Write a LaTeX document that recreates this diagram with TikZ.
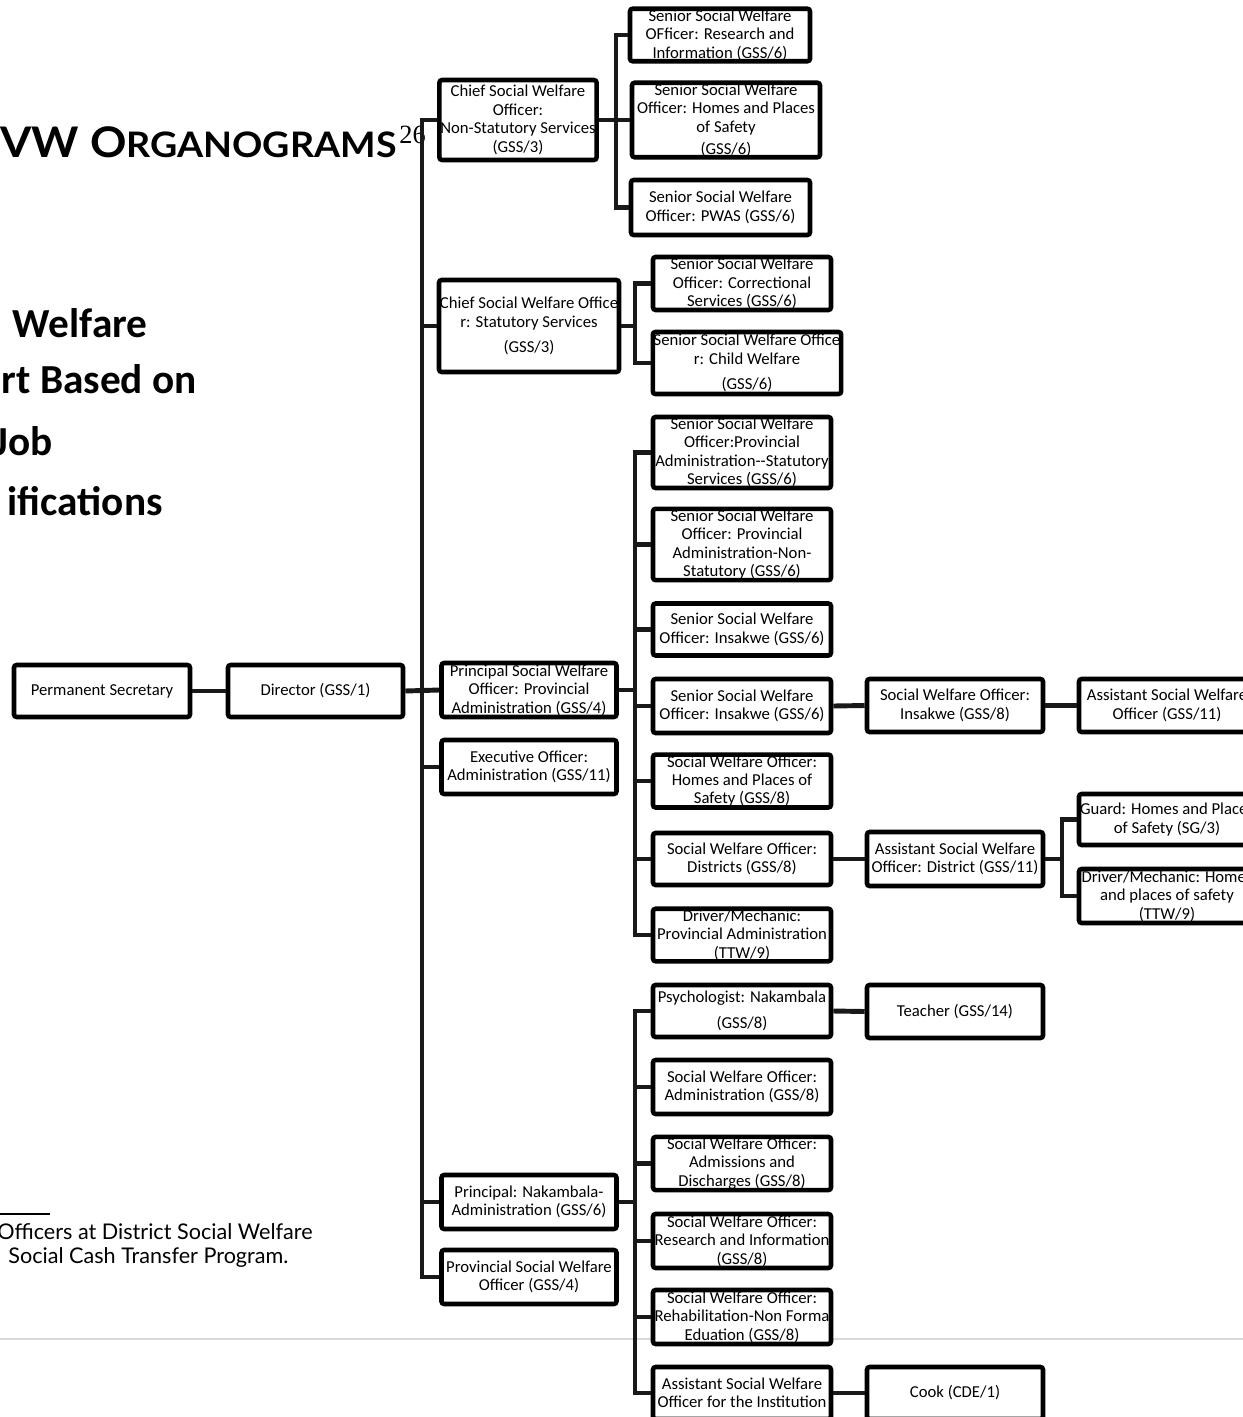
\documentclass[tikz,border=0pt]{standalone}
\usepackage{fontspec}
\newfontfamily\boxfont{Carlito}
\newfontfamily\gillfont{Lato}
\newfontfamily\timesfont{Liberation Serif}
\usepackage{tikz}

\begin{document}
\begin{tikzpicture}[x=0.02cm, y=-0.02cm,
        post/.style={draw, line width=2.6pt, rounded corners=1.5pt, fill=white, align=center, inner sep=0.5pt, font=\boxfont\fontsize{9.5}{10.5}\selectfont},
        boxsize/.style 2 args={minimum width=#1*0.02cm, minimum height=#2*0.02cm},
        link/.style={line width=2.8pt, black!90},
        title/.style={anchor=base east, inner sep=0pt, font=\boxfont\bfseries\fontsize{23.5}{23.5}\selectfont}]
        \clip (0, 0) rectangle (1243, 1417);

        % page text behind the chart
        \draw [gray!30, line width=1.2pt] (0, 1339) -- (1243, 1339);
        \node (heading) [anchor=base east, inner sep=0pt, font=\gillfont\bfseries] at (397, 157) {\scalebox{1.07}[1]{\fontsize{24}{24}\selectfont VW O\fontsize{20}{20}\selectfont RGANOGRAMS}};
        \node (heading note) [anchor=base west, inner sep=0pt, font=\timesfont\fontsize{15}{15}\selectfont] at (399, 143) {26};
        \node (title a) [title] at (148, 337) {Welfare};
        \node (title b) [title] at (197, 393) {rt Based on};
        \node (title c) [title] at (53, 455) {Job};
        \node (title d) [title] at (163, 515) {ifications};
        \draw [line width=0.6pt] (0, 1214) -- (50, 1214);
        \node (foot a) [anchor=base west, inner sep=0pt, font=\gillfont\fontsize{12.3}{12.3}\selectfont] at (-3, 1239) {Officers at District Social Welfare};
        \node (foot b) [anchor=base west, inner sep=0pt, font=\gillfont\fontsize{12.3}{12.3}\selectfont] at (8, 1263) {Social Cash Transfer Program.};

        \node (perm sec) [post, boxsize={176}{52}] at (102, 691) {Permanent Secretary};
        \node (director) [post, boxsize={175}{52}] at (315.5, 691) {Director (GSS/1)};

        \node (chief ns) [post, boxsize={156}{80}] at (518, 120) {Chief Social Welfare\\Officer:\\Non-Statutory Services\\(GSS/3)};
        \node (chief st) [post, boxsize={176}{92}] at (529, 326) {Chief Social Welfare Office\\r: Statutory Services\\[4pt](GSS/3)};
        \node (princ prov) [post, boxsize={175}{54}] at (529, 690) {Principal Social Welfare\\Officer: Provincial\\Administration (GSS/4)};
        \node (exec off) [post, boxsize={175}{54}] at (529, 767) {Executive Officer:\\Administration (GSS/11)};
        \node (princ nak) [post, boxsize={175}{54}] at (529, 1202) {Principal: Nakambala-\\Administration (GSS/6)};
        \node (prov swo) [post, boxsize={175}{54}] at (529, 1277) {Provincial Social Welfare\\Officer (GSS/4)};

        \node (sr research) [post, boxsize={180}{52}] at (720, 35) {Senior Social Welfare\\OFficer: Research and\\Information (GSS/6)};
        \node (sr homes) [post, boxsize={188}{72}] at (726, 120) {Senior Social Welfare\\Officer: Homes and Places\\of Safety\\[2pt](GSS/6)};
        \node (sr pwas) [post, boxsize={179}{55}] at (720.5, 207.5) {Senior Social Welfare\\Officer: PWAS (GSS/6)};

        \node (sr correct) [post, boxsize={178}{53}] at (742, 283.5) {Senior Social Welfare\\Officer: Correctional\\Services (GSS/6)};
        \node (sr child) [post, boxsize={187}{62}] at (747, 363) {Senior Social Welfare Office\\r: Child Welfare\\[4pt](GSS/6)};

        \node (sr prov st) [post, boxsize={178}{71}] at (742, 452.5) {Senior Social Welfare\\Officer:Provincial\\Administration--Statutory\\Services (GSS/6)};
        \node (sr prov nst) [post, boxsize={178}{70}] at (742, 544.5) {Senior Social Welfare\\Officer: Provincial\\Administration-Non-\\Statutory (GSS/6)};
        \node (sr insakwe a) [post, boxsize={178}{52}] at (742, 629.5) {Senior Social Welfare\\Officer: Insakwe (GSS/6)};
        \node (sr insakwe b) [post, boxsize={178}{54}] at (742, 706) {Senior Social Welfare\\Officer: Insakwe (GSS/6)};
        \node (swo homes) [post, boxsize={178}{52}] at (742, 781) {Social Welfare Officer:\\Homes and Places of\\Safety (GSS/8)};
        \node (swo districts) [post, boxsize={178}{52}] at (742, 859) {Social Welfare Officer:\\Districts (GSS/8)};
        \node (driver prov) [post, boxsize={178}{52}] at (742, 935) {Driver/Mechanic:\\Provincial Administration\\(TTW/9)};

        \node (swo insakwe) [post, boxsize={176}{53}] at (955, 705.5) {Social Welfare Officer:\\Insakwe (GSS/8)};
        \node (asst swo) [post, boxsize={176}{53}] at (1167, 705.5) {Assistant Social Welfare\\Officer (GSS/11)};
        \node (asst district) [post, boxsize={176}{54}] at (955, 859) {Assistant Social Welfare\\Officer: District (GSS/11)};
        \node (guard) [post, boxsize={176}{51}] at (1167, 819.5) {Guard: Homes and Places\\of Safety (SG/3)};
        \node (driver homes) [post, boxsize={176}{54}] at (1167, 896) {Driver/Mechanic: Homes\\and places of safety\\(TTW/9)};

        \node (psych) [post, boxsize={178}{52}] at (742, 1011) {Psychologist: Nakambala\\[4pt](GSS/8)};
        \node (swo admin) [post, boxsize={178}{54}] at (742, 1087) {Social Welfare Officer:\\Administration (GSS/8)};
        \node (swo admissions) [post, boxsize={178}{53}] at (742, 1163.5) {Social Welfare Officer:\\Admissions and\\Discharges (GSS/8)};
        \node (swo research) [post, boxsize={178}{54}] at (742, 1241) {Social Welfare Officer:\\Research and Information\\(GSS/8)};
        \node (swo rehab) [post, boxsize={178}{54}] at (742, 1317) {Social Welfare Officer:\\Rehabilitation-Non Forma\\Eduation (GSS/8)};
        \node (asst inst) [post, boxsize={178}{52}] at (742, 1393) {Assistant Social Welfare\\Officer for the Institution};
        \node (teacher) [post, boxsize={176}{53}] at (955, 1011.5) {Teacher (GSS/14)};
        \node (cook) [post, boxsize={176}{52}] at (955, 1393) {Cook (CDE/1)};

        % main trunk
        \coordinate (trunk) at (422, 690);
        \draw [link] (perm sec.east) -- (director.west);
        \draw [link] (director.east) -- (princ prov.west);
        \draw [link] (chief ns.west) -| (trunk) |- (prov swo.west);
        \foreach \n in {chief st, exec off, princ nak}
            \draw [link] (trunk |- \n.west) -- (\n.west);

        % branches
        \coordinate (ns bus) at (616, 120);
        \draw [link] (sr research.west) -| (ns bus) |- (sr pwas.west);
        \draw [link] (chief ns.east) -- (sr homes.west);

        \coordinate (st bus) at (635, 326);
        \draw [link] (sr correct.west) -| (st bus) |- (sr child.west);
        \draw [link] (chief st.east) -- (st bus);

        \coordinate (prov bus) at (635, 690);
        \draw [link] (sr prov st.west) -| (prov bus) |- (driver prov.west);
        \draw [link] (princ prov.east) -- (prov bus);
        \foreach \n in {sr prov nst, sr insakwe a, sr insakwe b, swo homes, swo districts}
            \draw [link] (prov bus |- \n.west) -- (\n.west);
        \draw [link] (sr insakwe b.east) -- (swo insakwe.west);
        \draw [link] (swo insakwe.east) -- (asst swo.west);
        \draw [link] (swo districts.east) -- (asst district.west);

        \coordinate (district bus) at (1062, 859);
        \draw [link] (guard.west) -| (district bus) |- (driver homes.west);
        \draw [link] (asst district.east) -- (district bus);

        \coordinate (nak bus) at (635, 1202);
        \draw [link] (psych.west) -| (nak bus) |- (asst inst.west);
        \draw [link] (princ nak.east) -- (nak bus);
        \foreach \n in {swo admin, swo admissions, swo research, swo rehab}
            \draw [link] (nak bus |- \n.west) -- (\n.west);
        \draw [link] (psych.east) -- (teacher.west);
        \draw [link] (asst inst.east) -- (cook.west);
    \end{tikzpicture}
\end{document}
